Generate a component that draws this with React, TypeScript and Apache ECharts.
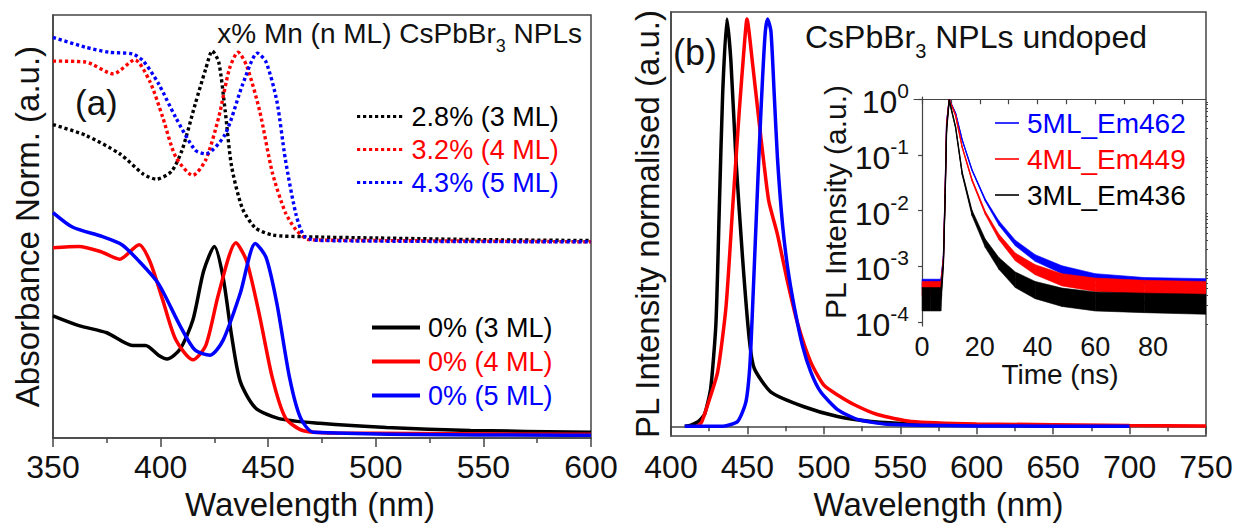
import { useEffect, useRef } from "react";
import * as echarts from "echarts";

const FONT = "'Liberation Sans', Arial, Helvetica, sans-serif";
const INK = "#111111";
const FRAME = "#444444";
const BLACK = "#000000";
const RED = "#ff0000";
const BLUE = "#0000ff";

// ---------- Panel (a): absorbance (normalised, offset) ----------
const ABS_WL_DOPED_3ML = [350, 365, 381, 392, 398, 405, 410, 416, 421, 424, 427, 430, 433, 438, 444, 452, 466, 500, 550, 600];
const ABS_DOPED_3ML = [0.741, 0.716, 0.672, 0.624, 0.612, 0.63, 0.681, 0.788, 0.873, 0.915, 0.889, 0.774, 0.642, 0.543, 0.497, 0.48, 0.476, 0.473, 0.469, 0.467];

const ABS_WL_DOPED_4ML = [350, 365, 378, 388, 395, 401, 407, 415, 421, 427, 432, 436, 440, 446, 452, 458, 463, 469, 500, 600];
const ABS_DOPED_4ML = [0.891, 0.889, 0.861, 0.894, 0.843, 0.758, 0.665, 0.621, 0.658, 0.758, 0.873, 0.912, 0.88, 0.774, 0.626, 0.533, 0.492, 0.469, 0.467, 0.464];

const ABS_WL_DOPED_5ML = [350, 365, 376, 387, 392, 399, 407, 416, 421, 430, 438, 445, 449, 454, 458, 463, 467, 474, 600];
const ABS_DOPED_5ML = [0.947, 0.924, 0.912, 0.908, 0.891, 0.838, 0.758, 0.681, 0.672, 0.718, 0.834, 0.91, 0.889, 0.797, 0.658, 0.527, 0.476, 0.467, 0.464];

const ABS_WL_3ML = [350, 362, 375, 387, 393, 399, 403, 409, 415, 420, 425, 429, 433, 437, 444, 455, 474, 505, 544, 600];
const ABS_3ML = [0.289, 0.266, 0.249, 0.219, 0.219, 0.196, 0.187, 0.21, 0.279, 0.395, 0.453, 0.381, 0.242, 0.134, 0.072, 0.046, 0.035, 0.025, 0.018, 0.014];

const ABS_WL_4ML = [350, 362, 372, 381, 390, 395, 401, 407, 415, 421, 427, 435, 440, 446, 452, 458, 466, 481, 600];
const ABS_4ML = [0.45, 0.453, 0.441, 0.423, 0.457, 0.418, 0.326, 0.233, 0.185, 0.219, 0.342, 0.462, 0.418, 0.289, 0.141, 0.048, 0.018, 0.012, 0.009];

const ABS_WL_5ML = [350, 359, 373, 382, 390, 399, 409, 416, 423, 429, 437, 444, 449, 454, 460, 465, 471, 600];
const ABS_5ML = [0.533, 0.499, 0.476, 0.457, 0.418, 0.365, 0.266, 0.208, 0.196, 0.231, 0.342, 0.46, 0.427, 0.319, 0.141, 0.048, 0.014, 0.007];

// ---------- Panel (b): PL spectra (normalised) ----------
const PL_WL_3ML = [409, 413, 418, 422, 426, 429.4, 431.6, 433.8, 436.6, 439.2, 442.5, 446.8, 451.2, 454.5, 465.4, 487, 509, 531, 560, 600, 650, 700];
const PL_3ML = [0, 0.003, 0.012, 0.03, 0.094, 0.253, 0.535, 0.817, 1.0, 0.896, 0.655, 0.414, 0.214, 0.142, 0.084, 0.048, 0.024, 0.012, 0.006, 0.003, 0.001, 0];

const PL_WL_4ML = [417, 420, 424, 430.5, 436, 440.3, 444.7, 448, 449.7, 453.4, 457.7, 461, 464, 469.7, 476, 482.8, 491.5, 500, 509, 520, 535, 557, 600, 700, 750];
const PL_4ML = [0, 0.01, 0.053, 0.133, 0.294, 0.535, 0.776, 0.937, 1.0, 0.889, 0.745, 0.639, 0.552, 0.47, 0.359, 0.253, 0.157, 0.101, 0.077, 0.053, 0.029, 0.012, 0.006, 0.002, 0.001];

const PL_WL_5ML = [409, 433, 443.6, 449, 451.6, 453.4, 455.6, 457.7, 459.9, 461.7, 463.2, 465.4, 467.5, 469.7, 473, 476.3, 480.6, 486, 491.5, 498, 509, 522, 541.6, 600, 700];
const PL_5ML = [0, 0, 0.012, 0.06, 0.149, 0.294, 0.494, 0.68, 0.855, 0.969, 1.0, 0.969, 0.817, 0.655, 0.494, 0.39, 0.294, 0.198, 0.133, 0.084, 0.041, 0.017, 0.005, 0.001, 0];

// ---------- Inset: TRPL decays, log10 of intensity (centre, upper and lower noise envelope) ----------
const T_NS = [0, 3, 6.5, 7.4, 8.0, 8.5, 9.4, 11.6, 13.9, 17.3, 21.9, 26.6, 32.3, 39.2, 48.5, 60, 77, 98.4];

const TRPL_5ML_LOG10 = [-3.32, -3.32, -3.32, -2.83, -1.63, -0.43, 0, -0.25, -0.73, -1.27, -1.81, -2.22, -2.58, -2.85, -3.06, -3.19, -3.27, -3.3];
const TRPL_5ML_HI = [-3.23, -3.23, -3.23, -2.81, -1.61, -0.41, 0, -0.24, -0.72, -1.26, -1.79, -2.18, -2.53, -2.79, -2.99, -3.13, -3.2, -3.22];
const TRPL_5ML_LO = [-3.4, -3.4, -3.4, -2.85, -1.65, -0.45, 0, -0.26, -0.74, -1.28, -1.83, -2.26, -2.63, -2.91, -3.13, -3.25, -3.33, -3.37];

const TRPL_4ML_LOG10 = [-3.4, -3.4, -3.4, -2.86, -1.66, -0.46, 0, -0.29, -0.86, -1.45, -2.04, -2.47, -2.83, -3.06, -3.24, -3.33, -3.38, -3.41];
const TRPL_4ML_HI = [-3.27, -3.27, -3.27, -2.84, -1.64, -0.44, 0, -0.28, -0.85, -1.43, -2.01, -2.42, -2.76, -2.97, -3.13, -3.21, -3.25, -3.27];
const TRPL_4ML_LO = [-3.53, -3.53, -3.53, -2.88, -1.68, -0.48, 0, -0.3, -0.87, -1.47, -2.07, -2.52, -2.9, -3.15, -3.35, -3.45, -3.5, -3.54];

const TRPL_3ML_LOG10 = [-3.58, -3.58, -3.58, -2.95, -1.75, -0.55, -0.02, -0.5, -1.33, -2.04, -2.58, -2.94, -3.24, -3.42, -3.55, -3.64, -3.66, -3.69];
const TRPL_3ML_HI = [-3.38, -3.38, -3.38, -2.91, -1.71, -0.51, 0, -0.48, -1.3, -1.99, -2.51, -2.84, -3.1, -3.27, -3.39, -3.46, -3.48, -3.5];
const TRPL_3ML_LO = [-3.8, -3.8, -3.8, -2.99, -1.79, -0.59, -0.04, -0.52, -1.36, -2.09, -2.66, -3.05, -3.38, -3.58, -3.72, -3.8, -3.83, -3.86];

const INSET_DECADES = [-4, -3, -2, -1, 0];
const INSET_TIME_LABELS = [0, 20, 40, 60, 80];
const INSET_TIME_TICKS = [0, 10, 20, 30, 40, 50, 60, 70, 80, 90];

const pairs = (xs: number[], ys: number[]) => xs.map((x, i) => [x, ys[i]]);

// dotted legend icon: row of small squares
const DOT_ICON =
  "path://" +
  Array.from({ length: 8 }, (_, i) => `M${i * 6} 0h3.2v3.2h-3.2z`).join(" ");

function absSeries(name: string, xs: number[], ys: number[], color: string, dotted: boolean) {
  return {
    type: "line",
    name,
    xAxisIndex: 0,
    yAxisIndex: 0,
    data: pairs(xs, ys),
    symbol: "none",
    showSymbol: false,
    smooth: 0.25,
    color,
    lineStyle: dotted ? { color, width: 3.4, type: [3.2, 2.8] } : { color, width: 3.5 },
    z: dotted ? 3 : 4,
  };
}

function plSeries(name: string, xs: number[], ys: number[], color: string) {
  return {
    type: "line",
    name,
    xAxisIndex: 1,
    yAxisIndex: 1,
    data: pairs(xs, ys),
    symbol: "none",
    showSymbol: false,
    smooth: 0.2,
    color,
    lineStyle: { color, width: 3.5 },
  };
}

function trplSeries(name: string, center: number[], hi: number[], lo: number[], color: string, z: number) {
  const segs = T_NS.slice(0, -1).map((t, i) => [t, lo[i], hi[i], T_NS[i + 1], lo[i + 1], hi[i + 1]]);
  return [
    {
      type: "custom",
      name: name + " noise",
      xAxisIndex: 2,
      yAxisIndex: 2,
      coordinateSystem: "cartesian2d",
      data: segs,
      encode: { x: [0, 3], y: [1, 2, 4, 5] },
      silent: true,
      clip: true,
      z,
      renderItem: (_params: any, api: any) => {
        const p1 = api.coord([api.value(0), api.value(2)]);
        const p2 = api.coord([api.value(3), api.value(5)]);
        const p3 = api.coord([api.value(3), api.value(4)]);
        const p4 = api.coord([api.value(0), api.value(1)]);
        return {
          type: "polygon",
          shape: { points: [p1, p2, p3, p4] },
          style: { fill: color, stroke: color, lineWidth: 0.6 },
        };
      },
    },
    {
      type: "line",
      name,
      xAxisIndex: 2,
      yAxisIndex: 2,
      data: pairs(T_NS, center),
      symbol: "none",
      showSymbol: false,
      color,
      lineStyle: { width: 1.3, color },
      z,
    },
  ];
}

const minorDecadeTicks: number[] = [];
for (let n = -5; n <= -1; n++) {
  for (let k = 2; k <= 9; k++) {
    const v = n + Math.log10(k);
    if (v > -4.07 && v < 0.04) minorDecadeTicks.push(v);
  }
}

const axisLineStyle = { color: FRAME, width: 1.5 };

function buildOption() {
  return {
    animation: false,
    backgroundColor: "#ffffff",
    textStyle: { fontFamily: FONT },
    grid: [
      { left: 53, top: 15, width: 538, height: 433, show: true, borderColor: FRAME, borderWidth: 1.5, backgroundColor: "transparent" },
      { left: 671, top: 12, width: 535, height: 432, show: true, borderColor: FRAME, borderWidth: 1.5, backgroundColor: "transparent" },
      { left: 914, top: 97, width: 292, height: 229, show: false },
    ],
    xAxis: [
      {
        gridIndex: 0,
        type: "value",
        min: 350,
        max: 600,
        interval: 50,
        axisLine: { show: true, lineStyle: axisLineStyle },
        axisTick: { show: true, length: 9, lineStyle: axisLineStyle },
        minorTick: { show: true, splitNumber: 2, length: 5, lineStyle: axisLineStyle },
        splitLine: { show: false },
        axisLabel: { fontSize: 32, color: INK, fontFamily: FONT, margin: 13 },
        name: "Wavelength (nm)",
        nameLocation: "middle",
        nameGap: 44,
        nameTextStyle: { fontSize: 33, color: INK, fontFamily: FONT, padding: [0, 24, 0, 0] },
      },
      {
        gridIndex: 1,
        type: "value",
        min: 400,
        max: 750,
        interval: 50,
        axisLine: { show: true, lineStyle: axisLineStyle },
        axisTick: { show: true, length: 8, lineStyle: axisLineStyle },
        minorTick: { show: true, splitNumber: 2, length: 5, lineStyle: axisLineStyle },
        splitLine: { show: false },
        axisLabel: { fontSize: 32, color: INK, fontFamily: FONT, margin: 15 },
        name: "Wavelength (nm)",
        nameLocation: "middle",
        nameGap: 47,
        nameTextStyle: { fontSize: 33, color: INK, fontFamily: FONT },
      },
      {
        gridIndex: 2,
        type: "value",
        min: -2.8,
        max: 98.4,
        axisLine: { show: true, lineStyle: { color: FRAME, width: 1.2 } },
        axisTick: { show: true, length: 5, customValues: INSET_TIME_TICKS, lineStyle: { color: FRAME, width: 1.2 } },
        splitLine: { show: false },
        axisLabel: { fontSize: 27, color: INK, fontFamily: FONT, margin: 7, customValues: INSET_TIME_LABELS },
        name: "Time (ns)",
        nameLocation: "middle",
        nameGap: 26,
        nameTextStyle: { fontSize: 28, color: INK, fontFamily: FONT },
      },
    ],
    yAxis: [
      {
        gridIndex: 0,
        type: "value",
        min: 0,
        max: 1,
        axisLine: { show: true, lineStyle: axisLineStyle },
        axisTick: { show: false },
        axisLabel: { show: false },
        splitLine: { show: false },
        name: "Absorbance Norm. (a.u.)",
        nameLocation: "middle",
        nameRotate: 90,
        nameGap: 9,
        nameTextStyle: { fontSize: 33, color: INK, fontFamily: FONT },
      },
      {
        gridIndex: 1,
        type: "value",
        min: -0.024,
        max: 1.017,
        axisLine: { show: true, lineStyle: axisLineStyle },
        axisTick: { show: false },
        axisLabel: { show: false },
        splitLine: { show: false },
        name: "PL Intensity normalised (a.u.)",
        nameLocation: "middle",
        nameRotate: 90,
        nameGap: 7,
        nameTextStyle: { fontSize: 33, color: INK, fontFamily: FONT },
      },
      {
        gridIndex: 2,
        type: "value",
        min: -4.07,
        max: 0.04,
        axisLine: { show: true, lineStyle: { color: FRAME, width: 1.2 } },
        axisTick: { show: true, length: 4, customValues: INSET_DECADES, lineStyle: { color: FRAME, width: 1.2 } },
        splitLine: { show: false },
        axisLabel: {
          margin: 5,
          customValues: INSET_DECADES,
          formatter: (v: number) => `{b|10}{s|${Math.round(v)}}`,
          rich: {
            b: { fontSize: 32, fontFamily: FONT, color: INK, lineHeight: 38, verticalAlign: "bottom" },
            s: { fontSize: 21, fontFamily: FONT, color: INK, lineHeight: 21, verticalAlign: "top" },
          },
        },
        name: "PL Intensity (a.u.)",
        nameLocation: "middle",
        nameRotate: 90,
        nameGap: 64,
        nameTextStyle: { fontSize: 30, color: INK, fontFamily: FONT, padding: [0, 0, 0, 19] },
      },
      {
        gridIndex: 2,
        type: "value",
        min: -4.07,
        max: 0.04,
        axisLine: { show: false },
        axisTick: { show: true, length: 2, customValues: minorDecadeTicks, lineStyle: { color: FRAME, width: 1 } },
        axisLabel: { show: false },
        splitLine: { show: false },
      },
    ],
    legend: [
      {
        left: 357,
        top: 103,
        orient: "vertical",
        padding: 0,
        itemGap: 6,
        itemWidth: 46,
        itemHeight: 3.2,
        icon: DOT_ICON,
        selectedMode: false,
        textStyle: { fontSize: 27, lineHeight: 27, fontFamily: FONT, padding: [0, 0, 0, 4] },
        data: [
          { name: "2.8% (3 ML)", textStyle: { color: BLACK } },
          { name: "3.2% (4 ML)", textStyle: { color: RED } },
          { name: "4.3% (5 ML)", textStyle: { color: BLUE } },
        ],
      },
      {
        left: 372,
        top: 314,
        orient: "vertical",
        padding: 0,
        itemGap: 7,
        itemWidth: 48,
        itemHeight: 4,
        icon: "rect",
        selectedMode: false,
        textStyle: { fontSize: 27, lineHeight: 27, fontFamily: FONT, padding: [0, 0, 0, 3] },
        data: [
          { name: "0% (3 ML)", textStyle: { color: BLACK } },
          { name: "0% (4 ML)", textStyle: { color: RED } },
          { name: "0% (5 ML)", textStyle: { color: BLUE } },
        ],
      },
      {
        left: 995,
        top: 109,
        orient: "vertical",
        padding: 0,
        itemGap: 8,
        itemWidth: 24,
        itemHeight: 1.6,
        icon: "rect",
        selectedMode: false,
        textStyle: { fontSize: 28, lineHeight: 28, fontFamily: FONT, padding: [0, 0, 0, 3] },
        data: [
          { name: "5ML_Em462", textStyle: { color: BLUE } },
          { name: "4ML_Em449", textStyle: { color: RED } },
          { name: "3ML_Em436", textStyle: { color: BLACK } },
        ],
      },
    ],
    graphic: [
      {
        type: "text",
        x: 75,
        y: 102,
        style: { text: "(a)", fontSize: 35, fontFamily: FONT, fill: INK, align: "left", verticalAlign: "middle" },
      },
      {
        type: "text",
        x: 673,
        y: 52,
        style: { text: "(b)", fontSize: 36, fontFamily: FONT, fill: INK, align: "left", verticalAlign: "middle" },
      },
      {
        type: "text",
        x: 582,
        y: 19,
        style: {
          text: "{n|x% Mn (n ML) CsPbBr}{s|3}{n| NPLs}",
          align: "right",
          verticalAlign: "top",
          rich: {
            n: { fontSize: 28, fontFamily: FONT, fill: INK, lineHeight: 28, verticalAlign: "top" },
            s: { fontSize: 18, fontFamily: FONT, fill: INK, lineHeight: 18, padding: [18, 0, 0, 0], verticalAlign: "top" },
          },
        },
      },
      {
        type: "text",
        x: 805,
        y: 21,
        style: {
          text: "{n|CsPbBr}{s|3}{n| NPLs undoped}",
          align: "left",
          verticalAlign: "top",
          rich: {
            n: { fontSize: 32, fontFamily: FONT, fill: INK, lineHeight: 32, verticalAlign: "top" },
            s: { fontSize: 20, fontFamily: FONT, fill: INK, lineHeight: 20, padding: [20, 0, 0, 0], verticalAlign: "top" },
          },
        },
      },
    ],
    series: [
      absSeries("2.8% (3 ML)", ABS_WL_DOPED_3ML, ABS_DOPED_3ML, BLACK, true),
      absSeries("3.2% (4 ML)", ABS_WL_DOPED_4ML, ABS_DOPED_4ML, RED, true),
      absSeries("4.3% (5 ML)", ABS_WL_DOPED_5ML, ABS_DOPED_5ML, BLUE, true),
      absSeries("0% (3 ML)", ABS_WL_3ML, ABS_3ML, BLACK, false),
      absSeries("0% (4 ML)", ABS_WL_4ML, ABS_4ML, RED, false),
      absSeries("0% (5 ML)", ABS_WL_5ML, ABS_5ML, BLUE, false),
      plSeries("PL 3 ML", PL_WL_3ML, PL_3ML, BLACK),
      plSeries("PL 4 ML", PL_WL_4ML, PL_4ML, RED),
      plSeries("PL 5 ML", PL_WL_5ML, PL_5ML, BLUE),
      ...trplSeries("5ML_Em462", TRPL_5ML_LOG10, TRPL_5ML_HI, TRPL_5ML_LO, BLUE, 5),
      ...trplSeries("4ML_Em449", TRPL_4ML_LOG10, TRPL_4ML_HI, TRPL_4ML_LO, RED, 6),
      ...trplSeries("3ML_Em436", TRPL_3ML_LOG10, TRPL_3ML_HI, TRPL_3ML_LO, BLACK, 7),
    ],
  };
}

export default function App() {
  const ref = useRef<HTMLDivElement>(null);
  useEffect(() => {
    document.body.style.margin = "0";
    const chart = echarts.init(ref.current!, null, { renderer: "svg" });
    chart.setOption(buildOption() as any);
    return () => chart.dispose();
  }, []);
  return <div ref={ref} style={{ position: "absolute", left: 0, top: 0, width: 1236, height: 526 }} />;
}
